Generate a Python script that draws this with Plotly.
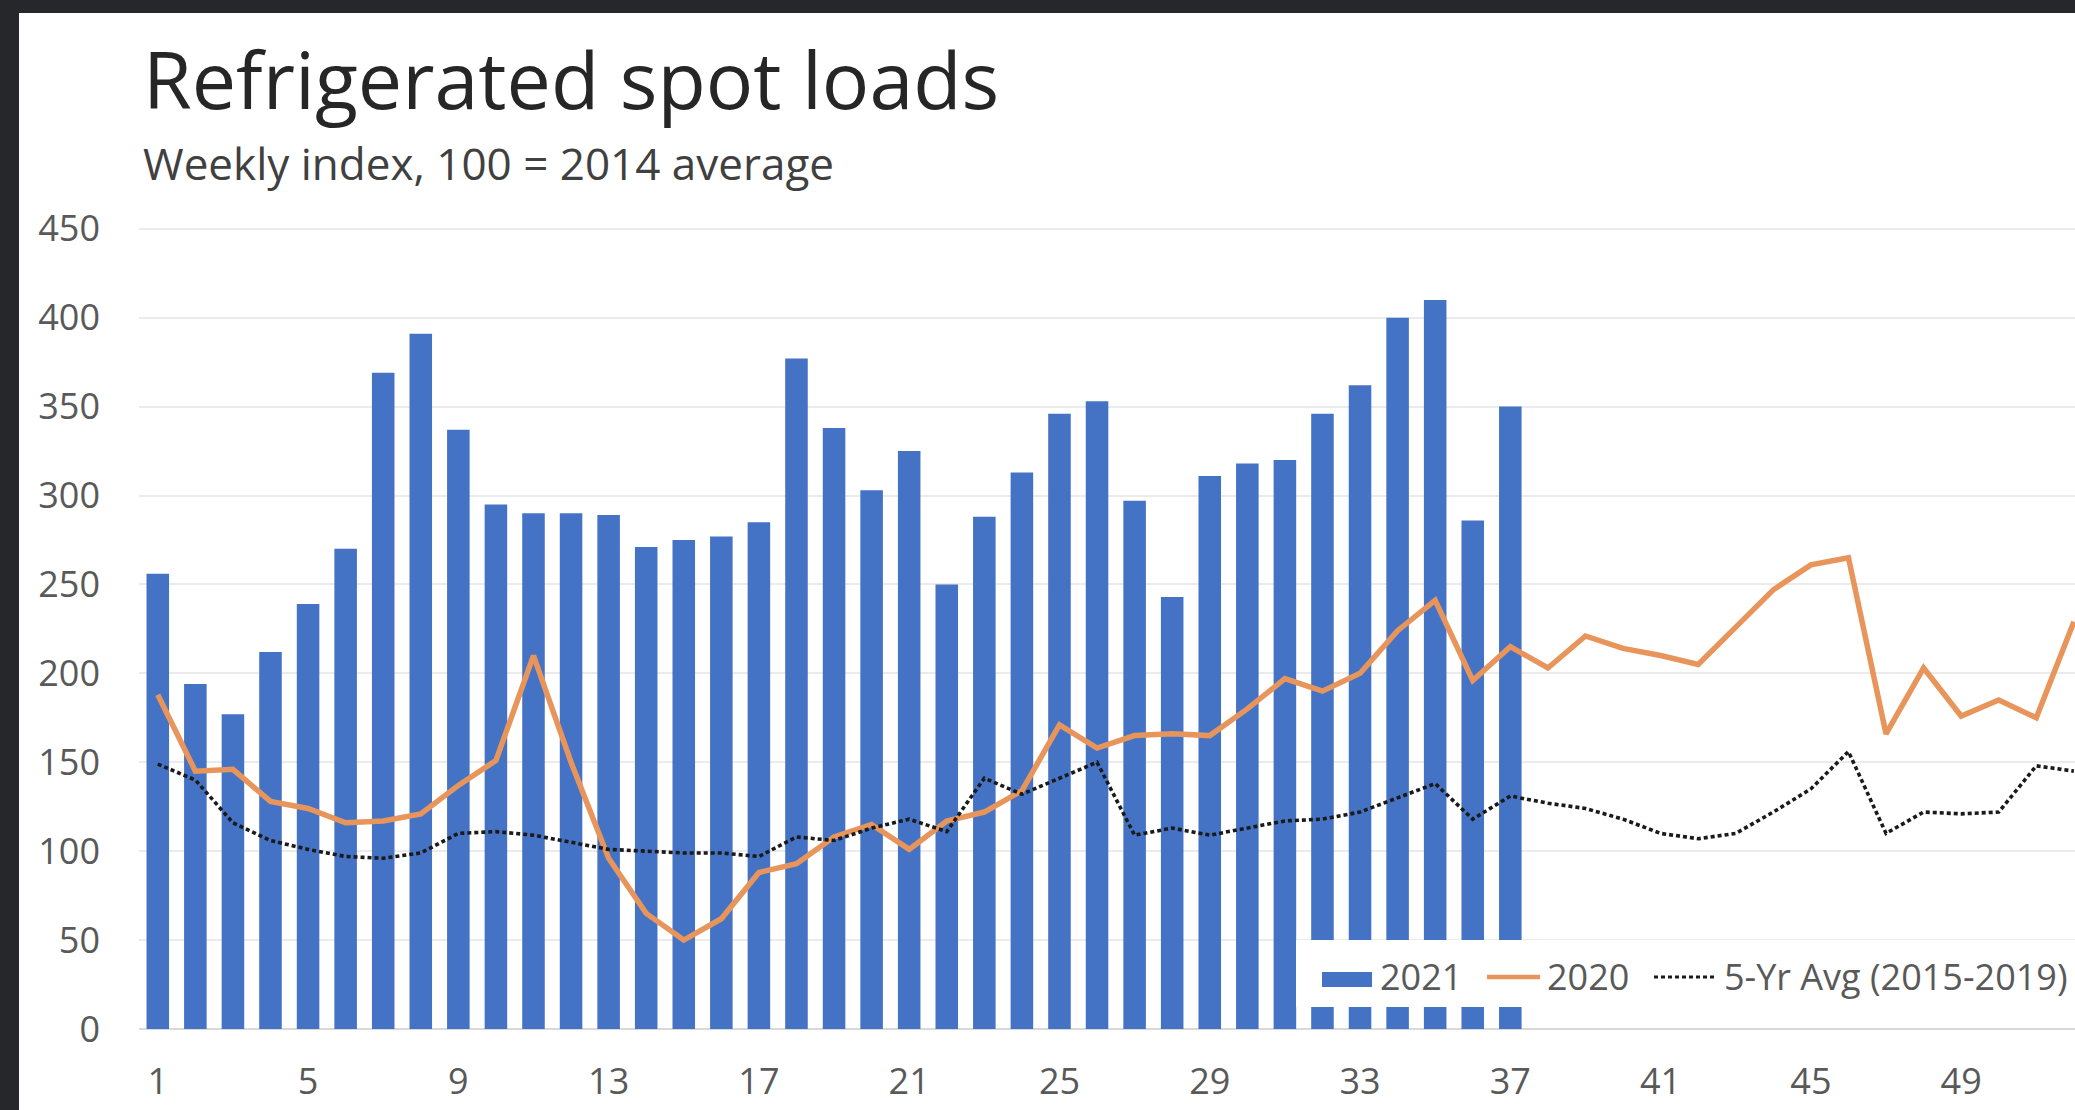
import plotly.graph_objects as go

# ---- data -------------------------------------------------------------
weeks_2021 = list(range(1, 38))
loads_2021 = [256, 194, 177, 212, 239, 270, 369, 391, 337, 295,
              290, 290, 289, 271, 275, 277, 285, 377, 338, 303,
              325, 250, 288, 313, 346, 353, 297, 243, 311, 318,
              320, 346, 362, 400, 410, 286, 350]

weeks_full = list(range(1, 53))
loads_2020 = [188, 145, 146, 128, 124, 116, 117, 121, 137, 151,
              210, 150, 96, 65, 50, 62, 88, 93, 108, 115,
              101, 117, 122, 134, 171, 158, 165, 166, 165, 180,
              197, 190, 200, 224, 241, 196, 215, 203, 221, 214,
              210, 205, 226, 247, 261, 265, 166, 203, 176, 185,
              175, 229]
avg_5yr = [149, 140, 116, 106, 101, 97, 96, 99, 110, 111,
           109, 105, 101, 100, 99, 99, 97, 108, 106, 113,
           118, 111, 141, 132, 141, 150, 109, 113, 109, 113,
           117, 118, 122, 130, 138, 118, 131, 127, 124, 118,
           110, 107, 110, 122, 135, 156, 110, 122, 121, 122,
           148, 145]

x_tickvals = list(range(1, 53, 4))
y_tickvals = list(range(0, 451, 50))

series_names = ["2021", "2020", "5-Yr Avg (2015-2019)"]
title_text = "Refrigerated spot loads"
subtitle_text = "Weekly index, 100 = 2014 average"

# ---- styling ----------------------------------------------------------
BLUE = "#4472C4"
ORANGE = "#E8955C"
DOTS = "#1a1a1a"
LABEL = "#595959"
FONT = "Open Sans, Lato, Liberation Sans, sans-serif"
DOT_DASH = "4px,3px"

W, H = 2075, 1110
ML, MR, MT, MB = 139, 0, 227, 81
PW, PH = W - ML - MR, H - MT - MB


def fx(px):
    """pixel column -> paper x"""
    return (px - ML) / PW


def fy(py):
    """pixel row (from top) -> paper y"""
    return (H - MB - py) / PH


fig = go.Figure()
fig.add_trace(go.Bar(x=weeks_2021, y=loads_2021, name=series_names[0],
                     marker=dict(color=BLUE, line=dict(width=0))))
fig.add_trace(go.Scatter(x=weeks_full, y=loads_2020, name=series_names[1],
                         mode="lines", line=dict(color=ORANGE, width=5.5)))
fig.add_trace(go.Scatter(x=weeks_full, y=avg_5yr, name=series_names[2],
                         mode="lines",
                         line=dict(color=DOTS, width=3.6, dash=DOT_DASH)))

shapes = [
    # white card over the dark backdrop
    dict(type="rect", xref="paper", yref="paper", layer="below",
         x0=fx(19), x1=fx(W + 10), y0=fy(H + 10), y1=fy(13),
         fillcolor="white", line=dict(width=0)),
    # legend box
    dict(type="rect", xref="paper", yref="paper", layer="above",
         x0=fx(1296), x1=fx(W + 10), y0=fy(1007), y1=fy(940),
         fillcolor="white", line=dict(width=0)),
    dict(type="rect", xref="paper", yref="paper", layer="above",
         x0=fx(1322), x1=fx(1372), y0=fy(987), y1=fy(972),
         fillcolor=BLUE, line=dict(width=0)),
    dict(type="line", xref="paper", yref="paper", layer="above",
         x0=fx(1487), x1=fx(1540), y0=fy(977), y1=fy(977),
         line=dict(color=ORANGE, width=4.5)),
    dict(type="line", xref="paper", yref="paper", layer="above",
         x0=fx(1654), x1=fx(1716), y0=fy(977), y1=fy(977),
         line=dict(color=DOTS, width=3.2, dash=DOT_DASH)),
]

annotations = [
    dict(text=title_text, xref="paper", yref="paper", x=fx(141), y=fy(79),
         xanchor="left", yanchor="middle", showarrow=False,
         font=dict(family=FONT, size=79, color="#262626")),
    dict(text=subtitle_text, xref="paper", yref="paper", x=fx(141), y=fy(163),
         xanchor="left", yanchor="middle", showarrow=False,
         font=dict(family=FONT, size=44, color="#404040")),
]
for label, left in zip(series_names, [1378, 1545, 1722]):
    annotations.append(dict(text=label, xref="paper", yref="paper",
                            x=fx(left), y=fy(976), xanchor="left",
                            yanchor="middle", showarrow=False,
                            font=dict(family=FONT, size=36, color=LABEL)))

fig.update_layout(
    width=W, height=H,
    margin=dict(l=ML, r=MR, t=MT, b=MB, pad=0),
    paper_bgcolor="#26272a",
    plot_bgcolor="rgba(0,0,0,0)",
    bargap=0.4,
    showlegend=False,
    shapes=shapes,
    annotations=annotations,
    font=dict(family=FONT, color=LABEL),
)
fig.update_xaxes(range=[0.5, 52.03], tickmode="array", tickvals=x_tickvals,
                 showgrid=False, zeroline=False, showline=False, ticks="",
                 tickfont=dict(family=FONT, size=36, color=LABEL),
                 ticklabelstandoff=28, automargin=False, fixedrange=True)
fig.update_yaxes(range=[0, 451], tickmode="array", tickvals=y_tickvals,
                 showgrid=True, gridcolor="#ebebeb", gridwidth=2,
                 zeroline=True, zerolinecolor="#d9d9d9", zerolinewidth=2,
                 showline=False, ticks="",
                 tickfont=dict(family=FONT, size=36, color=LABEL),
                 ticklabelstandoff=38, automargin=False, fixedrange=True)

fig.write_html("out.html", config={"displayModeBar": False})
